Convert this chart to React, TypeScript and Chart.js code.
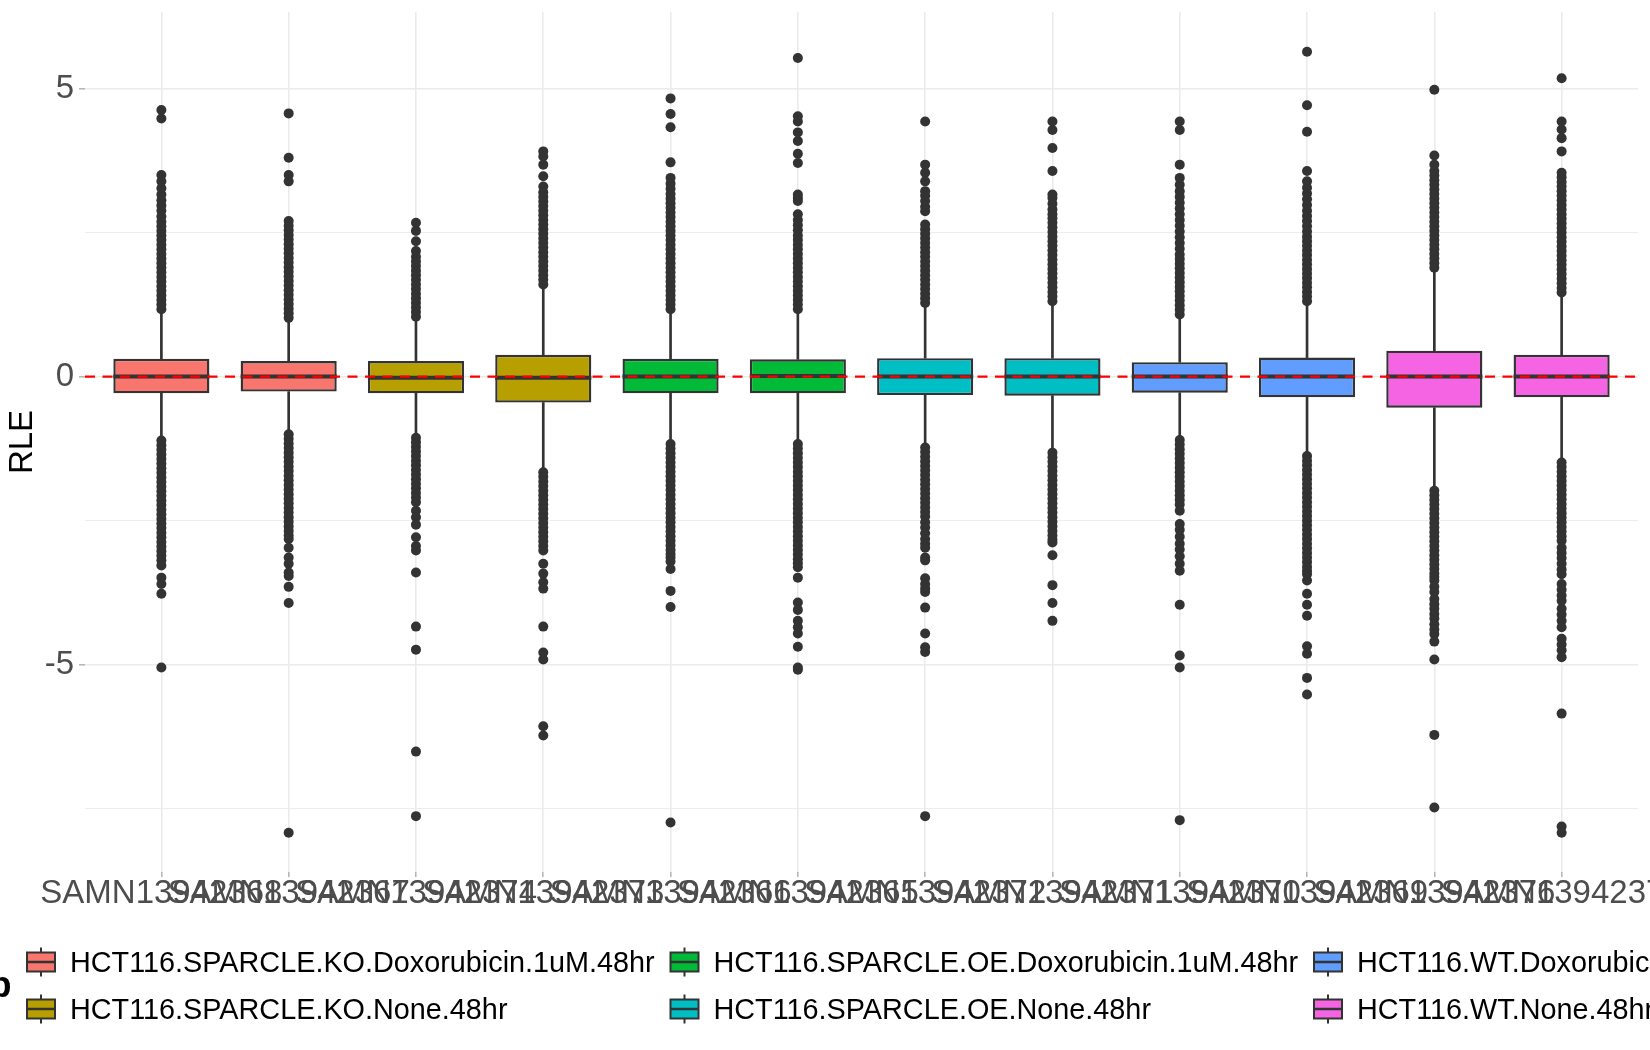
import React, { useEffect, useRef } from 'react';
import { Chart, registerables } from 'chart.js';

Chart.register(...registerables);

const FONT = "'Liberation Sans', Arial, sans-serif";

// samples in plotting order
const sampleNames = [
  'SAMN13942368', 'SAMN13942367', 'SAMN13942374', 'SAMN13942373',
  'SAMN13942366', 'SAMN13942365', 'SAMN13942372', 'SAMN13942371',
  'SAMN13942370', 'SAMN13942369', 'SAMN13942376', 'SAMN13942375',
];
const sampleGroup = [0, 0, 1, 1, 2, 2, 3, 3, 4, 4, 5, 5];

const groupNames = [
  'HCT116.SPARCLE.KO.Doxorubicin.1uM.48hr',
  'HCT116.SPARCLE.KO.None.48hr',
  'HCT116.SPARCLE.OE.Doxorubicin.1uM.48hr',
  'HCT116.SPARCLE.OE.None.48hr',
  'HCT116.WT.Doxorubicin.1uM.48hr',
  'HCT116.WT.None.48hr',
];
const groupColors = ['#F8766D', '#B79F00', '#00BA38', '#00BFC4', '#619CFF', '#F564E3'];

// box statistics (RLE)
const q1 = [-0.29, -0.26, -0.29, -0.45, -0.29, -0.29, -0.32, -0.33, -0.28, -0.36, -0.54, -0.36];
const q3 = [0.31, 0.27, 0.27, 0.38, 0.31, 0.3, 0.32, 0.32, 0.25, 0.33, 0.45, 0.38];
const medians = [0.0, 0.0, -0.02, -0.02, 0.0, 0.01, 0.0, 0.0, 0.0, 0.0, 0.0, 0.0];
const whiskerLow = [-1.09, -0.98, -1.04, -1.64, -1.15, -1.15, -1.21, -1.3, -1.08, -1.36, -1.96, -1.47];
const whiskerHigh = [1.15, 1.0, 1.02, 1.58, 1.15, 1.15, 1.26, 1.29, 1.06, 1.29, 1.87, 1.44];

// outlying points per sample
const outliers: number[][] = [
  [1.17, 1.25, 1.33, 1.41, 1.49, 1.57, 1.65, 1.73, 1.81, 1.89, 1.97, 2.05, 2.13, 2.21, 2.29, 2.37, 2.45, 2.53, 2.61, 2.69, 2.78, 2.88, 2.97, 3.06, 3.16, 3.27, 3.39, 3.5, 4.48, 4.63,
    -1.11, -1.19, -1.27, -1.35, -1.43, -1.51, -1.59, -1.67, -1.75, -1.83, -1.91, -1.99, -2.07, -2.15, -2.23, -2.31, -2.39, -2.47, -2.55, -2.63, -2.71, -2.79, -2.87, -2.95, -3.03, -3.11, -3.19, -3.28, -3.49, -3.6, -3.77, -5.05],
  [1.02, 1.1, 1.18, 1.26, 1.34, 1.42, 1.5, 1.58, 1.66, 1.74, 1.82, 1.9, 1.98, 2.06, 2.14, 2.22, 2.3, 2.38, 2.46, 2.54, 2.62, 2.7, 3.39, 3.5, 3.8, 4.57,
    -1.0, -1.08, -1.16, -1.24, -1.32, -1.4, -1.48, -1.56, -1.64, -1.72, -1.8, -1.88, -1.96, -2.04, -2.12, -2.2, -2.28, -2.36, -2.44, -2.52, -2.6, -2.68, -2.76, -2.82, -2.97, -3.14, -3.25, -3.4, -3.46, -3.65, -3.93, -7.92],
  [1.04, 1.12, 1.2, 1.28, 1.36, 1.44, 1.52, 1.6, 1.68, 1.76, 1.84, 1.92, 2.0, 2.08, 2.18, 2.35, 2.53, 2.67,
    -1.06, -1.14, -1.22, -1.3, -1.38, -1.46, -1.54, -1.62, -1.7, -1.78, -1.86, -1.94, -2.02, -2.1, -2.18, -2.33, -2.44, -2.57, -2.79, -2.94, -3.02, -3.4, -4.34, -4.74, -6.51, -7.63],
  [1.6, 1.68, 1.76, 1.84, 1.92, 2.0, 2.08, 2.16, 2.24, 2.32, 2.4, 2.48, 2.56, 2.64, 2.72, 2.8, 2.88, 2.96, 3.04, 3.12, 3.2, 3.3, 3.48, 3.68, 3.82, 3.91,
    -1.66, -1.74, -1.82, -1.9, -1.98, -2.06, -2.14, -2.22, -2.3, -2.38, -2.46, -2.54, -2.62, -2.7, -2.78, -2.86, -2.94, -3.02, -3.25, -3.42, -3.57, -3.68, -4.34, -4.79, -4.91, -6.07, -6.23],
  [1.17, 1.25, 1.33, 1.41, 1.49, 1.57, 1.65, 1.73, 1.81, 1.89, 1.97, 2.05, 2.13, 2.21, 2.29, 2.37, 2.45, 2.53, 2.61, 2.69, 2.77, 2.85, 2.93, 3.01, 3.09, 3.17, 3.26, 3.35, 3.45, 3.72, 4.33, 4.56, 4.83,
    -1.17, -1.25, -1.33, -1.41, -1.49, -1.57, -1.65, -1.73, -1.81, -1.89, -1.97, -2.05, -2.13, -2.21, -2.29, -2.37, -2.45, -2.53, -2.61, -2.69, -2.77, -2.85, -2.93, -3.01, -3.08, -3.14, -3.21, -3.34, -3.72, -4.0, -7.74],
  [1.17, 1.25, 1.33, 1.41, 1.49, 1.57, 1.65, 1.73, 1.81, 1.89, 1.97, 2.05, 2.13, 2.21, 2.29, 2.37, 2.45, 2.54, 2.63, 2.72, 2.82, 3.05, 3.1, 3.16, 3.71, 3.87, 4.09, 4.24, 4.43, 4.52, 5.53,
    -1.17, -1.25, -1.33, -1.41, -1.49, -1.57, -1.65, -1.73, -1.81, -1.89, -1.97, -2.05, -2.13, -2.21, -2.29, -2.37, -2.45, -2.53, -2.61, -2.69, -2.77, -2.85, -2.93, -3.01, -3.09, -3.17, -3.24, -3.31, -3.49, -3.92, -4.05, -4.24, -4.35, -4.46, -4.69, -5.05, -5.09],
  [1.28, 1.36, 1.44, 1.52, 1.6, 1.68, 1.76, 1.84, 1.92, 2.0, 2.08, 2.16, 2.24, 2.32, 2.4, 2.48, 2.56, 2.64, 2.87, 2.95, 3.05, 3.14, 3.22, 3.39, 3.54, 3.68, 4.43,
    -1.23, -1.31, -1.39, -1.47, -1.55, -1.63, -1.71, -1.79, -1.87, -1.95, -2.03, -2.11, -2.19, -2.27, -2.35, -2.43, -2.53, -2.62, -2.72, -2.82, -2.9, -2.97, -3.14, -3.19, -3.5, -3.6, -3.68, -3.74, -4.01, -4.46, -4.7, -4.78, -7.63],
  [1.31, 1.39, 1.47, 1.55, 1.63, 1.71, 1.79, 1.87, 1.95, 2.03, 2.11, 2.19, 2.27, 2.35, 2.43, 2.51, 2.59, 2.67, 2.75, 2.82, 2.9, 3.0, 3.1, 3.16, 3.57, 3.97, 4.28, 4.43,
    -1.32, -1.4, -1.48, -1.56, -1.64, -1.72, -1.8, -1.88, -1.96, -2.04, -2.12, -2.2, -2.28, -2.36, -2.44, -2.52, -2.6, -2.68, -2.76, -2.83, -2.88, -3.1, -3.62, -3.93, -4.24],
  [1.08, 1.16, 1.24, 1.32, 1.4, 1.48, 1.56, 1.64, 1.72, 1.8, 1.88, 1.96, 2.04, 2.12, 2.22, 2.32, 2.42, 2.52, 2.62, 2.72, 2.82, 2.92, 3.02, 3.12, 3.22, 3.33, 3.45, 3.68, 4.28, 4.43,
    -1.1, -1.18, -1.26, -1.34, -1.42, -1.5, -1.58, -1.66, -1.74, -1.82, -1.9, -1.98, -2.06, -2.14, -2.22, -2.33, -2.56, -2.66, -2.78, -2.9, -3.0, -3.12, -3.25, -3.37, -3.96, -4.84, -5.05, -7.7],
  [1.31, 1.39, 1.47, 1.55, 1.63, 1.71, 1.79, 1.87, 1.95, 2.03, 2.11, 2.19, 2.27, 2.35, 2.43, 2.52, 2.61, 2.7, 2.79, 2.88, 2.98, 3.08, 3.18, 3.28, 3.39, 3.57, 4.25, 4.71, 5.64,
    -1.38, -1.46, -1.54, -1.62, -1.7, -1.78, -1.86, -1.94, -2.02, -2.1, -2.18, -2.26, -2.34, -2.42, -2.5, -2.58, -2.66, -2.74, -2.82, -2.9, -2.98, -3.06, -3.14, -3.22, -3.3, -3.37, -3.43, -3.54, -3.77, -3.96, -4.15, -4.68, -4.81, -5.23, -5.52],
  [1.89, 1.97, 2.05, 2.13, 2.21, 2.29, 2.37, 2.45, 2.53, 2.61, 2.69, 2.77, 2.85, 2.93, 3.01, 3.09, 3.17, 3.25, 3.33, 3.41, 3.49, 3.57, 3.68, 3.84, 4.98,
    -1.98, -2.06, -2.14, -2.22, -2.3, -2.38, -2.46, -2.54, -2.62, -2.7, -2.78, -2.86, -2.94, -3.02, -3.1, -3.18, -3.26, -3.34, -3.42, -3.48, -3.54, -3.65, -3.74, -3.86, -3.95, -4.03, -4.12, -4.2, -4.3, -4.39, -4.47, -4.6, -4.91, -6.22, -7.48],
  [1.46, 1.54, 1.62, 1.7, 1.78, 1.86, 1.94, 2.02, 2.1, 2.18, 2.26, 2.34, 2.42, 2.5, 2.58, 2.66, 2.74, 2.82, 2.9, 2.98, 3.06, 3.14, 3.22, 3.3, 3.38, 3.46, 3.54, 3.91, 4.14, 4.29, 4.43, 5.18,
    -1.49, -1.57, -1.65, -1.73, -1.81, -1.89, -1.97, -2.05, -2.13, -2.21, -2.29, -2.37, -2.45, -2.53, -2.61, -2.69, -2.77, -2.85, -2.97, -3.06, -3.15, -3.25, -3.35, -3.43, -3.6, -3.7, -3.8, -3.89, -4.03, -4.13, -4.24, -4.35, -4.55, -4.65, -4.75, -4.87, -5.85, -7.81, -7.92],
];

const yTicks = [-7.5, -5, -2.5, 0, 2.5, 5];
const yLabelled = [-5, 0, 5];
const referenceLine = 0;

// legend layout (3 columns filled top-to-bottom)
const legendColX = [27, 670.5, 1314];
const legendRowY = [962, 1009];

const overlayPlugin = {
  id: 'boxOverlay',
  afterDatasetsDraw(chart: any) {
    const { ctx, chartArea, scales } = chart;
    const meta = chart.getDatasetMeta(0);
    ctx.save();
    ctx.beginPath();
    ctx.rect(chartArea.left, chartArea.top, chartArea.right - chartArea.left, chartArea.bottom - chartArea.top);
    ctx.clip();
    // medians
    ctx.strokeStyle = '#333333';
    ctx.lineWidth = 4;
    meta.data.forEach((bar: any, i: number) => {
      const { x, width } = bar.getProps(['x', 'width'], true);
      const py = scales.y.getPixelForValue(medians[i]);
      ctx.beginPath();
      ctx.moveTo(x - width / 2, py);
      ctx.lineTo(x + width / 2, py);
      ctx.stroke();
    });
    // dashed reference line
    const y0 = scales.y.getPixelForValue(referenceLine);
    ctx.strokeStyle = '#FF0000';
    ctx.lineWidth = 2.4;
    ctx.setLineDash([10, 7.5]);
    ctx.beginPath();
    ctx.moveTo(chartArea.left, y0);
    ctx.lineTo(chartArea.right, y0);
    ctx.stroke();
    ctx.restore();
  },
};

const legendPlugin = {
  id: 'groupLegend',
  afterDraw(chart: any) {
    const ctx = chart.ctx;
    ctx.save();
    ctx.fillStyle = '#000000';
    ctx.textAlign = 'right';
    ctx.textBaseline = 'alphabetic';
    ctx.font = `bold 36px ${FONT}`;
    ctx.fillText('group', 11.5, 997);

    ctx.textAlign = 'left';
    ctx.font = `28.8px ${FONT}`;
    groupNames.forEach((name, g) => {
      const kx = legendColX[Math.floor(g / 2)];
      const cy = legendRowY[g % 2];
      ctx.strokeStyle = '#333333';
      ctx.lineWidth = 2;
      ctx.beginPath();
      ctx.moveTo(kx + 14, cy - 14.5);
      ctx.lineTo(kx + 14, cy + 14.5);
      ctx.stroke();
      ctx.fillStyle = groupColors[g];
      ctx.fillRect(kx, cy - 9.5, 28, 19);
      ctx.strokeRect(kx, cy - 9.5, 28, 19);
      ctx.lineWidth = 2.5;
      ctx.beginPath();
      ctx.moveTo(kx, cy);
      ctx.lineTo(kx + 28, cy);
      ctx.stroke();
      ctx.fillStyle = '#000000';
      ctx.fillText(name, kx + 43, cy + 10);
    });
    ctx.restore();
  },
};

const RleBoxplot: React.FC = () => {
  const chartRef = useRef<HTMLCanvasElement>(null);
  const chartInstance = useRef<Chart | null>(null);

  useEffect(() => {
    if (!chartRef.current) return;
    if (chartInstance.current) chartInstance.current.destroy();
    const ctx = chartRef.current.getContext('2d');
    if (!ctx) return;

    const points = outliers.flatMap((vals, i) => vals.map((v) => ({ x: i, y: v })));

    chartInstance.current = new Chart(ctx, {
      type: 'bar',
      data: {
        datasets: [
          {
            type: 'bar',
            data: sampleNames.map((_, i) => ({ x: i, y: [q1[i], q3[i]] })) as any,
            backgroundColor: sampleGroup.map((g) => groupColors[g]),
            borderColor: '#333333',
            borderWidth: 2.4,
            borderSkipped: false,
            grouped: false,
            categoryPercentage: 1,
            barPercentage: 0.755,
            order: 1,
          },
          {
            type: 'bar',
            data: sampleNames.map((_, i) => ({ x: i, y: [q3[i], whiskerHigh[i]] })) as any,
            backgroundColor: '#333333',
            barThickness: 2,
            grouped: false,
            order: 3,
          },
          {
            type: 'bar',
            data: sampleNames.map((_, i) => ({ x: i, y: [whiskerLow[i], q1[i]] })) as any,
            backgroundColor: '#333333',
            barThickness: 2,
            grouped: false,
            order: 3,
          },
          {
            type: 'scatter',
            data: points as any,
            pointRadius: 5,
            pointHoverRadius: 5,
            pointBackgroundColor: '#333333',
            pointBorderWidth: 0,
            order: 2,
          } as any,
        ],
      },
      options: {
        responsive: false,
        animation: false,
        events: [],
        layout: { padding: { left: 0, right: 12, top: 12, bottom: 0 } },
        plugins: {
          legend: { display: false },
          tooltip: { enabled: false },
        },
        scales: {
          x: {
            type: 'linear',
            min: -0.6,
            max: 11.6,
            offset: false,
            bounds: 'data',
            afterBuildTicks: (scale: any) => {
              scale.ticks = sampleNames.map((_, i) => ({ value: i }));
            },
            afterFit: (scale: any) => {
              scale.height = 178;
              scale.paddingLeft = 0;
              scale.paddingRight = 0;
            },
            border: { display: false },
            grid: {
              offset: false,
              color: '#EBEBEB',
              lineWidth: 1.6,
              drawTicks: true,
              tickLength: 5,
              tickColor: '#B3B3B3',
              tickWidth: 1.5,
            },
            ticks: {
              autoSkip: false,
              maxRotation: 0,
              minRotation: 0,
              padding: 0,
              color: '#4D4D4D',
              font: { family: FONT, size: 33, lineHeight: 1 },
              callback: (value: any) => sampleNames[value] ?? '',
            },
          },
          y: {
            type: 'linear',
            min: -8.6,
            max: 6.33,
            bounds: 'data',
            afterBuildTicks: (scale: any) => {
              scale.ticks = yTicks.map((v) => ({ value: v }));
            },
            afterFit: (scale: any) => {
              scale.width = 85;
              scale.paddingTop = 0;
              scale.paddingBottom = 0;
            },
            border: { display: false },
            grid: {
              color: '#EBEBEB',
              lineWidth: (c: any) => (c.tick && yLabelled.includes(c.tick.value) ? 1.6 : 0.9),
              drawTicks: true,
              tickLength: 6,
              tickColor: (c: any) => (c.tick && yLabelled.includes(c.tick.value) ? '#B3B3B3' : 'rgba(0,0,0,0)'),
              tickWidth: 1.5,
            },
            ticks: {
              padding: 5,
              color: '#4D4D4D',
              font: { family: FONT, size: 33 },
              callback: (value: any) => (yLabelled.includes(value) ? String(value) : ''),
            },
            title: {
              display: true,
              text: 'RLE',
              color: '#000000',
              padding: { top: 3, bottom: 0 },
              font: { family: FONT, size: 33 },
            },
          },
        },
      },
      plugins: [overlayPlugin, legendPlugin],
    });

    return () => {
      if (chartInstance.current) {
        chartInstance.current.destroy();
        chartInstance.current = null;
      }
    };
  }, []);

  return (
    <div style={{ position: 'absolute', left: 0, top: 0, width: 1650, height: 1050, background: '#ffffff', overflow: 'hidden' }}>
      <canvas ref={chartRef} width={1650} height={1050} style={{ display: 'block', width: 1650, height: 1050 }}></canvas>
    </div>
  );
};

export default function App() {
  return <RleBoxplot />;
}
